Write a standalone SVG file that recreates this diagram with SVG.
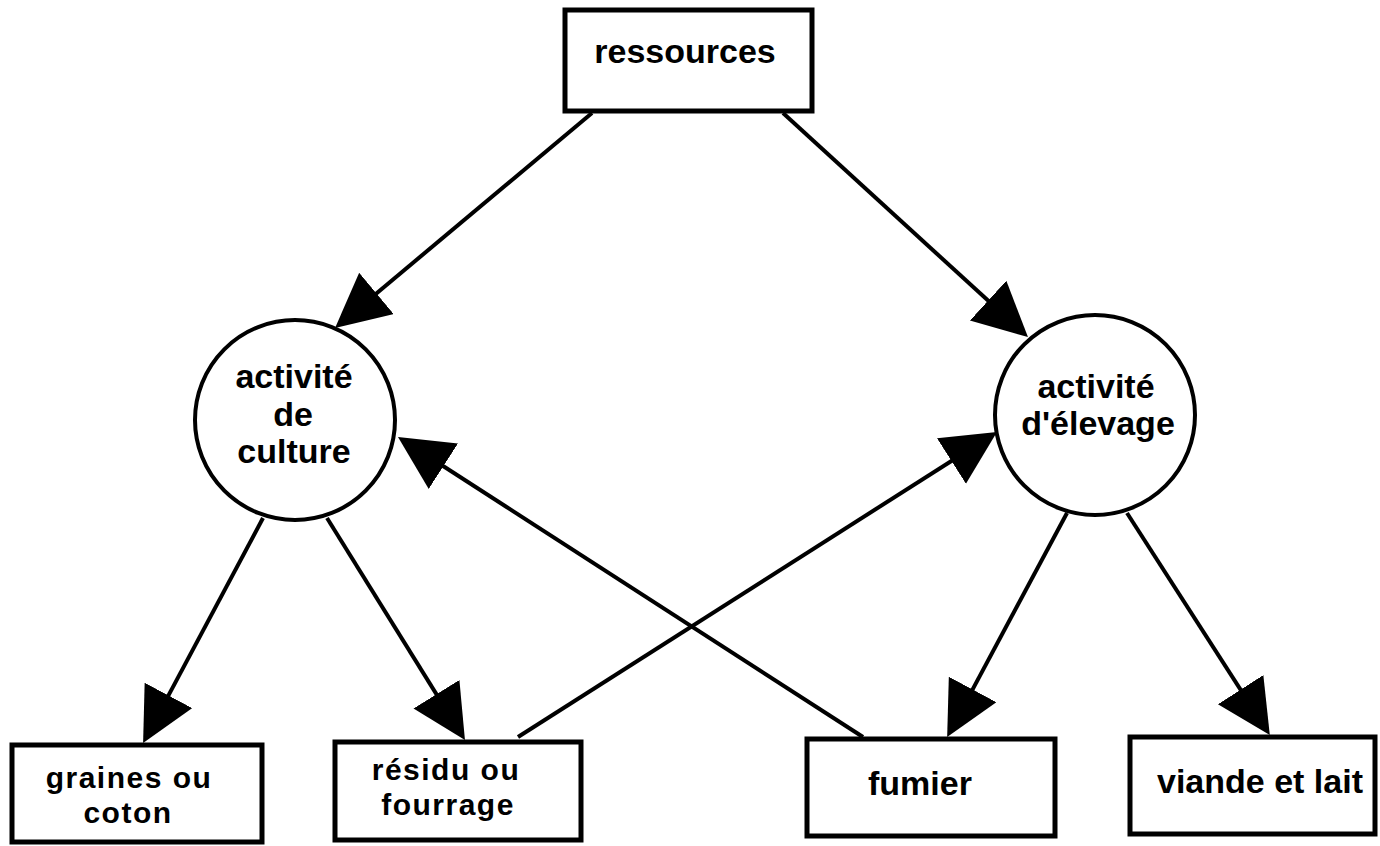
<svg xmlns="http://www.w3.org/2000/svg" width="1380" height="846" viewBox="0 0 1380 846">
  <style>
    .box { fill: #ffffff; stroke: #000000; stroke-width: 5; }
    .circ { fill: #ffffff; stroke: #000000; stroke-width: 4; }
    .lbl { font-family: "Liberation Sans", Arial, sans-serif; font-weight: bold; font-size: 34px; fill: #000000; text-anchor: middle; }
    .lbl2 { font-family: "Liberation Sans", Arial, sans-serif; font-weight: bold; font-size: 30px; letter-spacing: 1.5px; fill: #000000; text-anchor: middle; }
    .edge { stroke: #000000; stroke-width: 4; fill: none; marker-end: url(#arrow); }
  </style>
  <defs>
    <marker id="arrow" markerUnits="userSpaceOnUse" markerWidth="56" markerHeight="56" refX="34" refY="27" orient="auto" viewBox="0 0 56 56">
      <path d="M0,0 L54,27 L0,54 Z" fill="#000000"/>
    </marker>
  </defs>
  <rect width="1380" height="846" fill="#ffffff"/>

  <g id="ressources">
    <rect class="box" x="565" y="10" width="247" height="101"/>
    <text class="lbl" x="685" y="63">ressources</text>
  </g>
  <g id="activite-culture">
    <circle class="circ" cx="295" cy="420" r="100"/>
    <text class="lbl" x="294" y="388">activité</text>
    <text class="lbl" x="293" y="426">de</text>
    <text class="lbl" x="294" y="463">culture</text>
  </g>
  <g id="activite-elevage">
    <circle class="circ" cx="1095" cy="415" r="100"/>
    <text class="lbl" x="1096" y="398">activité</text>
    <text class="lbl" x="1098" y="435">d'élevage</text>
  </g>
  <g id="graines">
    <rect class="box" x="12" y="745" width="250" height="97"/>
    <text class="lbl2" x="129" y="788">graines ou</text>
    <text class="lbl2" x="128" y="823">coton</text>
  </g>
  <g id="residu">
    <rect class="box" x="335" y="742" width="246" height="98"/>
    <text class="lbl2" x="446" y="780">résidu ou</text>
    <text class="lbl2" x="448" y="815">fourrage</text>
  </g>
  <g id="fumier">
    <rect class="box" x="807" y="739" width="248" height="97"/>
    <text class="lbl" x="920" y="795">fumier</text>
  </g>
  <g id="viande">
    <rect class="box" x="1130" y="737" width="245" height="97"/>
    <text class="lbl" x="1260" y="793">viande et lait</text>
  </g>

  <g id="connectors">
    <line class="edge" x1="592" y1="113" x2="350.4" y2="315.2"/>
    <line class="edge" x1="783" y1="113" x2="1013.2" y2="323.6"/>
    <line class="edge" x1="263" y1="518" x2="152.5" y2="725.4"/>
    <line class="edge" x1="327" y1="518" x2="454.4" y2="723.1"/>
    <line class="edge" x1="518" y1="737" x2="980.1" y2="442.7"/>
    <line class="edge" x1="863" y1="737" x2="414.8" y2="447.8"/>
    <line class="edge" x1="1067" y1="513" x2="956.6" y2="719.4"/>
    <line class="edge" x1="1127" y1="513" x2="1259" y2="718.3"/>
  </g>
</svg>
